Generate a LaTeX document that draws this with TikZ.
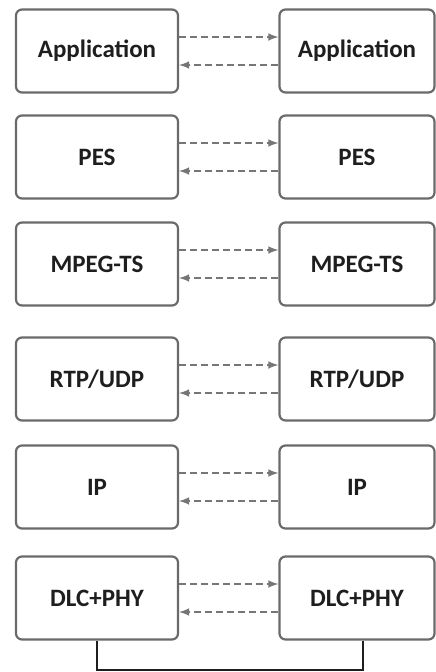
\documentclass[tikz,border=0pt]{standalone}
\usepackage{fontspec}
\setmainfont{Carlito}
\usepackage{xcolor}
\usepackage{tikz}
\usetikzlibrary{calc}

\definecolor{boxgray}{HTML}{6A6A6A}
\definecolor{arrowgray}{HTML}{767676}
\definecolor{textdark}{HTML}{1E1E1E}

\begin{document}
\begin{tikzpicture}[x=1pt,y=-1pt,
		layer/.style={draw=boxgray, line width=2.2pt, rounded corners=6pt,
			minimum height=83pt, inner sep=0pt, text=textdark,
			font=\bfseries\fontsize{25}{30}\selectfont},
		peer/.style={draw=arrowgray, line width=2.4pt, dash pattern=on 7pt off 4pt, -latex}]
	\useasboundingbox (0,0) rectangle (436,672);
	\foreach \name/\txt/\y in {app/Application/51, pes/PES/157, ts/MPEG-TS/264,
		rtp/{RTP/UDP}/379, ip/IP/487, dlc/DLC+PHY/598}
	{
		\node[layer, minimum width=162pt] (\name-l) at (97,\y) {\txt};
		\node[layer, minimum width=155pt] (\name-r) at (357,\y) {\txt};
		\draw[peer] ([yshift=14pt]\name-l.east) -- ([yshift=14pt]\name-r.west);
		\draw[peer] ([yshift=-14pt]\name-r.west) -- ([yshift=-14pt]\name-l.east);
	}
	% physical link
	\coordinate (link) at ([xshift=6pt]dlc-r.south);
	\draw[line width=2.2pt, draw=textdark] (dlc-l.south) -- ++(0,29) -| (link);
\end{tikzpicture}
\end{document}
